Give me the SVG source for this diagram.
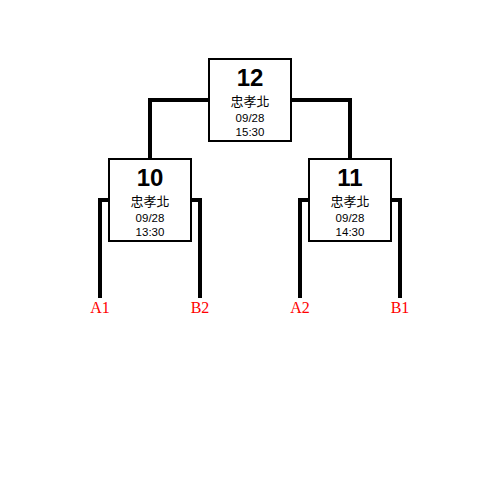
<svg xmlns="http://www.w3.org/2000/svg" width="500" height="500" viewBox="0 0 500 500">
<style>
.box{fill:#fff;stroke:#000;stroke-width:2}
.ln{fill:none;stroke:#000;stroke-width:4}
.num{font-family:"Liberation Sans",sans-serif;font-weight:bold;font-size:24px;text-anchor:middle}
.loc{font-family:"Noto Sans CJK TC","Liberation Sans",sans-serif;font-size:13px;text-anchor:middle}
.sm{font-family:"Liberation Sans",sans-serif;font-size:11.5px;text-anchor:middle}
.tm{font-family:"Liberation Serif",serif;font-size:16px;fill:#f00;text-anchor:middle}
</style>
<rect width="500" height="500" fill="#fff"/>
<g id="connectors">
<path class="ln" d="M150 159V100H209M291 100H350V159"/>
<path class="ln" d="M109 200H100V298M191 200H200V298"/>
<path class="ln" d="M309 200H300V298M391 200H400V298"/>
</g>
<g id="node12">
<rect class="box" x="209" y="59" width="82" height="82"/>
<text class="num" x="250" y="86">12</text>
<text class="loc" x="250" y="106">忠孝北</text>
<text class="sm" x="250" y="122">09/28</text>
<text class="sm" x="250" y="136">15:30</text>
</g>
<g id="node10">
<rect class="box" x="109" y="159" width="82" height="82"/>
<text class="num" x="150" y="186">10</text>
<text class="loc" x="150" y="206">忠孝北</text>
<text class="sm" x="150" y="222">09/28</text>
<text class="sm" x="150" y="236">13:30</text>
</g>
<g id="node11">
<rect class="box" x="309" y="159" width="82" height="82"/>
<text class="num" x="350" y="186">11</text>
<text class="loc" x="350" y="206">忠孝北</text>
<text class="sm" x="350" y="222">09/28</text>
<text class="sm" x="350" y="236">14:30</text>
</g>
<g id="teams">
<text class="tm" x="100" y="313">A1</text>
<text class="tm" x="200" y="313">B2</text>
<text class="tm" x="300" y="313">A2</text>
<text class="tm" x="400" y="313">B1</text>
</g>
</svg>
